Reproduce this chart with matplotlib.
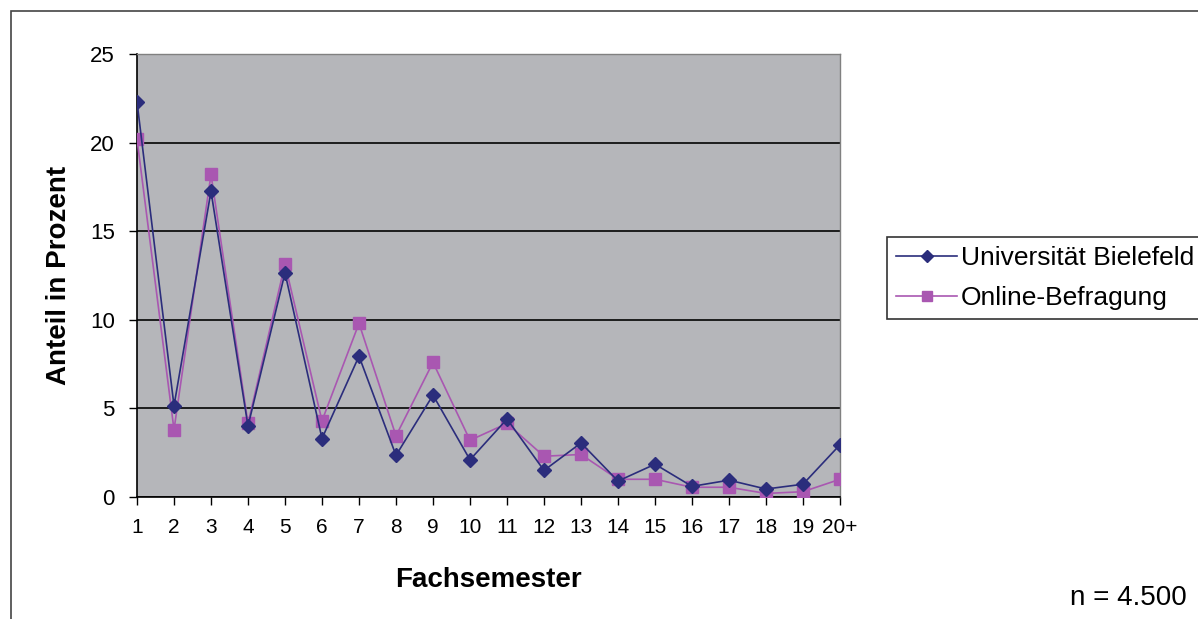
import matplotlib.pyplot as plt
from matplotlib.patches import Rectangle

plt.rcParams['font.family'] = ['Liberation Sans', 'DejaVu Sans']

semester = ['1', '2', '3', '4', '5', '6', '7', '8', '9', '10',
            '11', '12', '13', '14', '15', '16', '17', '18', '19', '20+']
uni_bielefeld = [22.3, 5.15, 17.25, 4.0, 12.65, 3.3, 7.95, 2.35, 5.75, 2.1,
                 4.4, 1.5, 3.05, 0.9, 1.85, 0.6, 0.95, 0.45, 0.72, 2.95]
online = [20.2, 3.8, 18.2, 4.15, 13.15, 4.3, 9.8, 3.45, 7.6, 3.2,
          4.15, 2.3, 2.4, 1.0, 1.0, 0.55, 0.55, 0.2, 0.3, 1.0]

navy = '#2B2D7C'
pink = '#A957B1'

fig = plt.figure(figsize=(11.98, 6.19), dpi=100)
ax = fig.add_axes([137 / 1198, 1 - 497 / 619, (840 - 137) / 1198, (497 - 54) / 619])

x = list(range(len(semester)))
ax.plot(x, uni_bielefeld, color=navy, lw=1.2, marker='D', ms=7.5, mec=navy,
        label='Universität Bielefeld', zorder=4)
ax.plot(x, online, color=pink, lw=1.2, marker='s', ms=8.5, mec=pink,
        label='Online-Befragung', zorder=3)

ax.set_facecolor('#B5B6BA')
ax.set_xlim(0, len(semester) - 1)
ax.set_ylim(0, 25)
ax.set_xticks(x)
ax.set_xticklabels(semester, fontsize=15)
ax.set_yticks([0, 5, 10, 15, 20, 25])
ax.tick_params(axis='y', labelsize=16, length=6, width=1, pad=10)
ax.tick_params(axis='x', length=6, width=1, pad=9)
ax.grid(axis='y', color='#111111', lw=1.3)
ax.set_axisbelow(True)
for s in ['top', 'right']:
    ax.spines[s].set_color('#808080')
    ax.spines[s].set_linewidth(1)
for s in ['left', 'bottom']:
    ax.spines[s].set_color('#000000')
    ax.spines[s].set_linewidth(1.2)

ax.set_xlabel('Fachsemester', fontsize=20, fontweight='bold', labelpad=22)
ax.set_ylabel('Anteil in Prozent', fontsize=20, fontweight='bold', labelpad=13)

leg = ax.legend(loc='upper left', bbox_to_anchor=(887 / 1198, 1 - 237 / 619),
                bbox_transform=fig.transFigure, fontsize=19, frameon=True,
                fancybox=False, edgecolor='#000000', borderpad=0.35,
                handlelength=2.3, handletextpad=0.15, borderaxespad=0,
                labelspacing=0.6, markerscale=0.85)
leg.get_frame().set_linewidth(1.2)

fig.text(1187 / 1198, 1 - 598 / 619, 'n = 4.500', fontsize=20, ha='right', va='center')

fig.patches.append(Rectangle((11 / 1198, -0.1), 1.2, 1 - 11 / 619 + 0.1,
                             transform=fig.transFigure, fill=False,
                             edgecolor='#444444', lw=1.2))

fig.savefig('out.png', dpi=100)
